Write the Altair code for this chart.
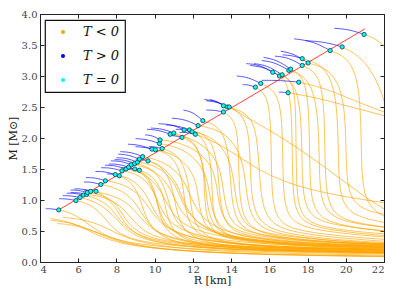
import altair as alt
import pandas as pd

# ---------------- data ----------------
x_ticks = [4, 6, 8, 10, 12, 14, 16, 18, 20, 22]
y_ticks = [0.0, 0.5, 1.0, 1.5, 2.0, 2.5, 3.0, 3.5, 4.0]
legend_labels = ["T < 0", "T > 0", "T = 0"]
legend_colors = ["#FFA500", "#0000FF", "#00FFFF"]

# T = 0 points (cyan markers)
t0_R = [4.98, 5.88, 6.09, 6.27, 6.44, 6.48, 6.65, 6.93, 7.18, 7.42, 7.94, 8.15, 8.29, 8.50,
        8.64, 8.78, 8.96, 8.96, 9.10, 9.20, 9.20, 9.37, 9.65, 9.86, 10.04, 10.25, 10.28,
        10.39, 10.81, 11.00, 11.43, 11.54, 11.82, 11.96, 12.13, 12.27, 12.52, 13.60, 13.60,
        13.80, 13.90, 15.27, 15.55, 16.18, 16.53, 16.67, 17.02, 17.12, 16.98, 17.54, 17.72,
        17.72, 18.03, 19.18, 19.81, 20.96]
t0_M = [0.84, 0.99, 1.04, 1.08, 1.09, 1.12, 1.14, 1.14, 1.25, 1.31, 1.41, 1.39, 1.47, 1.50,
        1.53, 1.57, 1.59, 1.50, 1.61, 1.48, 1.66, 1.70, 1.63, 1.82, 1.81, 1.91, 1.97,
        1.83, 2.06, 2.08, 2.01, 2.13, 2.13, 2.10, 2.06, 2.20, 2.28, 2.42, 2.52,
        2.50, 2.50, 2.82, 2.88, 3.06, 3.00, 3.02, 3.09, 3.11, 2.73, 2.90, 3.28,
        3.17, 3.21, 3.41, 3.47, 3.67]

# red line through the T = 0 points
line_R = [4.98, 21.0]
line_M = [0.84, 3.76]

# T < 0 branches (orange), control points (R, M)
orange_left = [
    [(4.98, 0.84), (5.6, 0.80), (6.4, 0.65), (7.2, 0.45), (8.5, 0.30), (12, 0.20), (18, 0.15), (24, 0.12)],
    [(5.88, 0.99), (6.6, 0.94), (7.3, 0.75), (7.9, 0.50), (9, 0.32), (13, 0.20), (24, 0.14)],
    [(6.09, 1.04), (6.9, 0.98), (7.8, 0.78), (8.5, 0.50), (9.8, 0.30), (14, 0.19), (24, 0.15)],
    [(6.27, 1.08), (7.1, 1.02), (7.8, 0.85), (8.3, 0.60), (9.5, 0.35), (13, 0.22), (24, 0.16)],
    [(6.44, 1.09), (7.4, 1.05), (8.4, 0.88), (9.1, 0.55), (10.5, 0.32), (15, 0.20), (24, 0.17)],
    [(6.48, 1.12), (7.3, 1.08), (8.0, 0.95), (8.4, 0.70), (9.3, 0.40), (12, 0.25), (24, 0.18)],
    [(6.65, 1.14), (7.6, 1.10), (8.7, 0.95), (9.5, 0.60), (10.8, 0.35), (15, 0.22), (24, 0.19)],
    [(6.93, 1.14), (7.4, 1.06), (8.0, 0.88), (8.5, 0.55), (9.8, 0.30), (14, 0.18), (24, 0.13)],
    [(7.18, 1.25), (8.0, 1.20), (9.0, 1.00), (9.6, 0.60), (10.8, 0.33), (15, 0.21), (24, 0.17)],
    [(7.42, 1.31), (8.4, 1.26), (9.4, 1.05), (10.0, 0.70), (11.3, 0.38), (16, 0.23), (24, 0.20)],
    [(7.94, 1.41), (8.8, 1.35), (9.6, 1.10), (10.1, 0.70), (11.3, 0.40), (15, 0.24), (24, 0.20)],
    [(8.15, 1.39), (8.8, 1.30), (9.3, 1.00), (9.6, 0.60), (10.8, 0.30), (14, 0.18), (24, 0.14)],
    [(8.29, 1.47), (9.2, 1.42), (10.0, 1.15), (10.4, 0.75), (11.6, 0.42), (16, 0.26), (24, 0.22)],
    [(8.50, 1.50), (9.4, 1.45), (10.3, 1.20), (10.8, 0.80), (12, 0.45), (17, 0.27), (24, 0.23)],
    [(8.64, 1.53), (9.4, 1.45), (10.0, 1.15), (10.3, 0.70), (11.3, 0.35), (15, 0.22), (24, 0.18)],
    [(8.78, 1.57), (9.8, 1.52), (10.8, 1.25), (11.2, 0.85), (12.5, 0.45), (17, 0.28), (24, 0.24)],
    [(8.96, 1.59), (9.9, 1.52), (10.6, 1.20), (10.9, 0.70), (12, 0.36), (16, 0.22), (24, 0.19)],
    [(8.96, 1.50), (9.6, 1.42), (10.1, 1.10), (10.3, 0.60), (11.3, 0.30), (15, 0.19), (24, 0.15)],
    [(9.10, 1.61), (10.1, 1.56), (11.1, 1.30), (11.5, 0.85), (12.8, 0.45), (17, 0.28), (24, 0.25)],
    [(9.20, 1.48), (9.9, 1.40), (10.5, 1.10), (10.7, 0.55), (11.8, 0.28), (16, 0.18), (24, 0.14)],
    [(9.20, 1.66), (10.2, 1.60), (11.2, 1.30), (11.6, 0.85), (12.8, 0.42), (17, 0.26), (24, 0.22)],
    [(9.37, 1.70), (10.4, 1.64), (11.6, 1.35), (12.0, 0.90), (13.2, 0.45), (18, 0.28), (24, 0.25)],
    [(9.65, 1.63), (10.4, 1.55), (11.0, 1.20), (11.2, 0.60), (12.3, 0.30), (16, 0.19), (24, 0.15)],
]
orange_mid = [
    [(9.86, 1.82), (11.0, 1.76), (12.1, 1.45), (12.3, 1.00), (12.5, 0.60), (13.5, 0.38), (17, 0.27), (24, 0.24)],
    [(10.04, 1.81), (11.0, 1.72), (11.5, 1.30), (11.6, 0.80), (12.0, 0.50), (13, 0.33), (17, 0.23), (24, 0.20)],
    [(10.25, 1.91), (11.5, 1.84), (12.7, 1.50), (12.9, 1.00), (13.2, 0.60), (14.3, 0.40), (18, 0.29), (24, 0.26)],
    [(10.28, 1.97), (11.6, 1.92), (13.1, 1.60), (13.3, 1.05), (13.6, 0.62), (14.8, 0.42), (19, 0.30), (24, 0.27)],
    [(10.39, 1.83), (11.3, 1.74), (11.8, 1.30), (11.9, 0.80), (12.3, 0.48), (13.5, 0.30), (18, 0.20), (24, 0.16)],
    [(10.81, 2.06), (12.1, 2.00), (13.4, 1.65), (13.6, 1.10), (13.9, 0.62), (15.2, 0.42), (20, 0.30), (24, 0.27)],
    [(11.00, 2.08), (12.1, 1.98), (12.6, 1.55), (12.7, 1.00), (13.0, 0.55), (14.2, 0.36), (19, 0.25), (24, 0.22)],
    [(11.43, 2.01), (12.2, 1.90), (12.6, 1.50), (12.6, 0.90), (12.9, 0.50), (14, 0.33), (19, 0.23), (24, 0.20)],
    [(11.54, 2.13), (12.9, 2.06), (14.0, 1.70), (14.2, 1.10), (14.5, 0.62), (15.8, 0.43), (21, 0.30), (24, 0.28)],
    [(11.82, 2.13), (12.9, 2.04), (13.3, 1.60), (13.4, 1.00), (13.7, 0.55), (15, 0.38), (20, 0.27), (24, 0.24)],
    [(11.96, 2.10), (12.7, 1.98), (13.0, 1.50), (13.0, 0.90), (13.3, 0.50), (14.5, 0.34), (19, 0.24), (24, 0.21)],
    [(12.13, 2.06), (13.5, 1.90), (15.5, 1.45), (18, 1.15), (22, 0.95), (24, 0.88)],
    [(12.27, 2.20), (13.6, 2.12), (14.6, 1.75), (14.8, 1.10), (15.1, 0.62), (16.5, 0.42), (21, 0.30), (24, 0.28)],
    [(12.52, 2.28), (13.5, 2.18), (13.9, 1.75), (14.0, 1.05), (14.3, 0.58), (15.6, 0.40), (20, 0.29), (24, 0.26)],
    [(13.60, 2.42), (14.2, 2.30), (14.4, 1.90), (14.4, 1.10), (14.7, 0.60), (16, 0.40), (20, 0.30), (24, 0.27)],
    [(13.60, 2.52), (14.6, 2.43), (15.0, 2.00), (15.0, 1.20), (15.3, 0.65), (16.7, 0.44), (21, 0.32), (24, 0.29)],
    [(13.80, 2.50), (15.0, 2.40), (15.4, 2.00), (15.5, 1.20), (15.8, 0.66), (17.2, 0.45), (22, 0.33), (24, 0.30)],
    [(13.90, 2.50), (15.0, 2.30), (17.0, 1.95), (19.5, 1.40), (22, 0.81), (24, 0.60)],
]
orange_right = [
    [(15.27, 2.82), (15.9, 2.70), (16.1, 2.20), (16.1, 1.20), (16.3, 0.70), (17.3, 0.48), (22, 0.36), (24, 0.33)],
    [(15.55, 2.88), (16.4, 2.76), (16.7, 2.30), (16.7, 1.20), (16.9, 0.72), (18.0, 0.50), (23, 0.38)],
    [(16.18, 3.06), (17.3, 2.95), (17.7, 2.40), (17.7, 1.30), (17.9, 0.80), (19.0, 0.58), (24, 0.45)],
    [(16.53, 3.00), (17.0, 2.88), (17.2, 2.30), (17.2, 1.20), (17.4, 0.74), (18.4, 0.52), (23, 0.40)],
    [(16.67, 3.02), (17.3, 2.90), (17.4, 2.30), (17.4, 1.20), (17.6, 0.75), (18.6, 0.53), (23.5, 0.42)],
    [(17.02, 3.09), (18.1, 2.98), (18.6, 2.40), (18.6, 1.30), (18.8, 0.85), (19.8, 0.62), (24, 0.50)],
    [(17.12, 3.11), (17.8, 3.00), (18.1, 2.50), (18.1, 1.30), (18.3, 0.80), (19.4, 0.58), (23.5, 0.45)],
    [(16.98, 2.73), (18.5, 2.65), (20.5, 2.48), (24, 2.20)],
    [(17.54, 2.90), (19.0, 2.80), (20.8, 2.55), (24, 2.20)],
    [(17.72, 3.28), (19.0, 3.17), (19.6, 2.60), (19.6, 1.40), (19.8, 0.90), (20.8, 0.68), (24, 0.55)],
    [(17.72, 3.17), (18.6, 3.05), (18.9, 2.50), (18.9, 1.40), (19.1, 0.85), (20.1, 0.62), (24, 0.50)],
    [(18.03, 3.21), (19.3, 3.10), (20.0, 2.60), (20.0, 1.50), (20.2, 1.00), (21.2, 0.78), (24, 0.70)],
    [(19.18, 3.41), (20.3, 3.28), (20.8, 2.70), (20.8, 1.50), (21.0, 0.95), (22, 0.70), (24, 0.55)],
    [(19.81, 3.47), (20.9, 3.30), (21.9, 2.80), (22.5, 2.00)],
    [(20.96, 3.67), (21.8, 3.58), (22.6, 3.25), (23.2, 2.60)],
]
orange_low = [
    [(4.52, 0.70), (5.4, 0.66), (6.3, 0.55), (7.3, 0.38), (9, 0.24), (13, 0.15), (18, 0.11), (24, 0.09)],
    [(4.60, 0.67), (5.6, 0.64), (6.8, 0.50), (8.0, 0.33), (10, 0.20), (15, 0.12), (24, 0.08)],
    [(4.90, 0.62), (5.8, 0.60), (7.0, 0.48), (8.5, 0.30), (11, 0.18), (16, 0.11), (24, 0.08)],
    [(5.20, 0.72), (6.2, 0.69), (7.2, 0.60), (8.2, 0.42), (10, 0.25), (14, 0.15), (24, 0.10)],
]

# T > 0 branches (blue), control points (R, M)
blue_branches = [
    [(4.98, 0.84), (4.6, 0.86), (4.3, 0.86)],
    [(5.88, 0.99), (5.4, 1.02), (5.0, 1.02)],
    [(6.09, 1.04), (5.6, 1.07), (5.2, 1.07)],
    [(6.27, 1.08), (5.8, 1.11), (5.4, 1.11)],
    [(6.44, 1.09), (6.0, 1.12), (5.6, 1.12)],
    [(6.48, 1.12), (6.0, 1.16), (5.6, 1.16)],
    [(6.65, 1.14), (6.2, 1.18), (5.8, 1.18)],
    [(6.93, 1.14), (6.6, 1.16), (6.3, 1.16)],
    [(7.18, 1.25), (6.7, 1.29), (6.3, 1.29)],
    [(7.42, 1.31), (6.9, 1.36), (6.4, 1.36)],
    [(7.94, 1.41), (7.4, 1.46), (6.9, 1.46)],
    [(8.15, 1.39), (7.8, 1.42), (7.5, 1.42)],
    [(8.29, 1.47), (7.7, 1.52), (7.2, 1.52)],
    [(8.50, 1.50), (7.9, 1.56), (7.4, 1.56)],
    [(8.64, 1.53), (8.1, 1.58), (7.6, 1.58)],
    [(8.78, 1.57), (8.2, 1.63), (7.7, 1.63)],
    [(8.96, 1.59), (8.4, 1.65), (7.9, 1.65)],
    [(8.96, 1.50), (8.6, 1.52), (8.3, 1.52)],
    [(9.10, 1.61), (8.5, 1.68), (8.0, 1.68)],
    [(9.20, 1.48), (8.9, 1.50), (8.6, 1.50)],
    [(9.20, 1.66), (8.6, 1.73), (8.1, 1.74)],
    [(9.37, 1.70), (8.8, 1.77), (8.2, 1.78)],
    [(9.65, 1.63), (9.3, 1.66), (9.0, 1.66)],
    [(9.86, 1.82), (9.2, 1.89), (8.6, 1.90)],
    [(10.04, 1.81), (9.5, 1.85), (9.0, 1.86)],
    [(10.25, 1.91), (9.6, 1.98), (9.0, 1.99)],
    [(10.28, 1.97), (9.9, 2.04), (9.5, 2.05)],
    [(10.39, 1.83), (10.0, 1.86), (9.7, 1.86)],
    [(10.81, 2.06), (10.2, 2.13), (9.6, 2.14)],
    [(11.00, 2.08), (10.4, 2.15), (9.8, 2.16)],
    [(11.43, 2.01), (11.0, 2.04), (10.7, 2.04)],
    [(11.54, 2.13), (10.9, 2.22), (10.2, 2.23)],
    [(11.82, 2.13), (11.2, 2.20), (10.6, 2.21)],
    [(11.96, 2.10), (11.5, 2.14), (11.1, 2.14)],
    [(12.13, 2.06), (11.7, 2.09), (11.3, 2.09)],
    [(12.27, 2.20), (11.6, 2.30), (10.9, 2.32)],
    [(12.52, 2.28), (12.0, 2.42), (11.5, 2.45)],
    [(13.60, 2.42), (13.1, 2.45), (12.7, 2.45)],
    [(13.60, 2.52), (13.2, 2.60), (12.9, 2.62)],
    [(13.80, 2.50), (13.2, 2.60), (12.6, 2.62)],
    [(13.90, 2.50), (13.3, 2.58), (12.7, 2.60)],
    [(15.27, 2.82), (14.9, 2.86), (14.6, 2.86)],
    [(15.55, 2.88), (14.9, 2.98), (14.3, 3.00)],
    [(16.18, 3.06), (15.5, 3.18), (14.8, 3.20)],
    [(16.53, 3.00), (15.8, 3.14), (15.0, 3.17)],
    [(16.67, 3.02), (15.9, 3.17), (15.2, 3.20)],
    [(17.02, 3.09), (16.3, 3.22), (15.6, 3.25)],
    [(17.12, 3.11), (16.4, 3.26), (15.7, 3.30)],
    [(16.98, 2.73), (16.7, 2.74), (16.5, 2.74)],
    [(17.54, 2.90), (16.6, 2.93), (15.6, 2.93)],
    [(17.72, 3.28), (17.2, 3.33), (16.7, 3.34)],
    [(17.72, 3.17), (17.0, 3.30), (16.3, 3.32)],
    [(18.03, 3.21), (17.3, 3.36), (16.6, 3.40)],
    [(19.18, 3.41), (18.3, 3.56), (17.3, 3.60)],
    [(19.81, 3.47), (18.9, 3.55), (17.9, 3.57)],
    [(20.96, 3.67), (20.2, 3.75), (19.4, 3.77)],
]

# ---------------- tables ----------------
def to_rows(curves, prefix):
    rows = []
    for i, pts in enumerate(curves):
        for j, (r, m) in enumerate(pts):
            rows.append({"curve": f"{prefix}{i}", "order": j, "R": r, "M": m})
    return rows

orange_df = pd.DataFrame(
    to_rows(orange_left, "a") + to_rows(orange_mid, "b")
    + to_rows(orange_right, "c") + to_rows(orange_low, "d")
)
blue_df = pd.DataFrame(to_rows(blue_branches, "e"))
red_df = pd.DataFrame({"R": line_R, "M": line_M, "order": [0, 1]})
t0_df = pd.DataFrame({"R": t0_R, "M": t0_M, "type": legend_labels[2]})

FONT = "DejaVu Serif"
W, H = 344, 248

# small dot drawn right of the symbol box centre (legend dot placement)
LEGEND_DOT = "M 0.571 0 A 0.286 0.286 0 1 0 1.143 0 A 0.286 0.286 0 1 0 0.571 0 Z"

xscale = alt.Scale(domain=[4, 22], nice=False, zero=False)
yscale = alt.Scale(domain=[0, 4], nice=False, zero=False)

x_enc = alt.X("R:Q", scale=xscale, axis=alt.Axis(
    values=x_ticks, format="d", title="R [km]", ticks=False,
    grid=True, gridDash=[4, H - 8, 4, 2000], gridColor="#222", gridOpacity=1, gridWidth=1,
    labelPadding=2, titlePadding=0))
y_enc = alt.Y("M:Q", scale=yscale, axis=alt.Axis(
    values=y_ticks, format=".1f", title="M [M⊙]", ticks=False,
    grid=True, gridDash=[4, W - 8, 4, 2000], gridColor="#222", gridOpacity=1, gridWidth=1,
    labelPadding=3, titlePadding=3))

orange = alt.Chart(orange_df).mark_line(
    interpolate="basis", clip=True, color="#FFA500", strokeWidth=1, opacity=0.65
).encode(x=x_enc, y=y_enc, detail="curve:N", order="order:Q")

blue = alt.Chart(blue_df).mark_line(
    interpolate="basis", clip=True, color="#0000FF", strokeWidth=1, opacity=0.65
).encode(x=x_enc, y=y_enc, detail="curve:N", order="order:Q")

red = alt.Chart(red_df).mark_line(
    clip=True, color="#FF0000", strokeWidth=1, opacity=0.75
).encode(x=x_enc, y=y_enc, order="order:Q")

points = alt.Chart(t0_df).mark_point(
    filled=True, shape="circle", size=18, stroke="#0d3a3a", strokeWidth=0.8, opacity=1
).encode(
    x=x_enc, y=y_enc,
    fill=alt.Fill("type:N", scale=alt.Scale(domain=legend_labels, range=legend_colors),
                  legend=alt.Legend(
                      title=None, orient="none", legendX=5, legendY=6,
                      symbolType=LEGEND_DOT, symbolSize=196, symbolStrokeWidth=0,
                      labelOffset=19, rowPadding=10, padding=5,
                      labelFont=FONT, labelFontSize=13, labelFontStyle="italic",
                      labelColor="#111", strokeColor="#111", fillColor="white",
                      cornerRadius=0)),
)

chart = alt.layer(orange, blue, red, points).properties(
    width=W, height=H,
    autosize=alt.AutoSizeParams(type="none"),
    padding={"left": 32, "top": 6, "right": 6, "bottom": 30},
).configure(
    font=FONT
).configure_view(
    stroke="#222", strokeWidth=1
).configure_axis(
    labelFont=FONT, labelFontSize=10, labelColor="#444",
    titleFont=FONT, titleFontSize=11, titleColor="#222", titleFontWeight="normal",
    domainColor="#222", domainWidth=1,
).configure_legend(
    strokeWidth=1.2
)

chart.save("out.html", embed_options={"renderer": "svg", "actions": False})
